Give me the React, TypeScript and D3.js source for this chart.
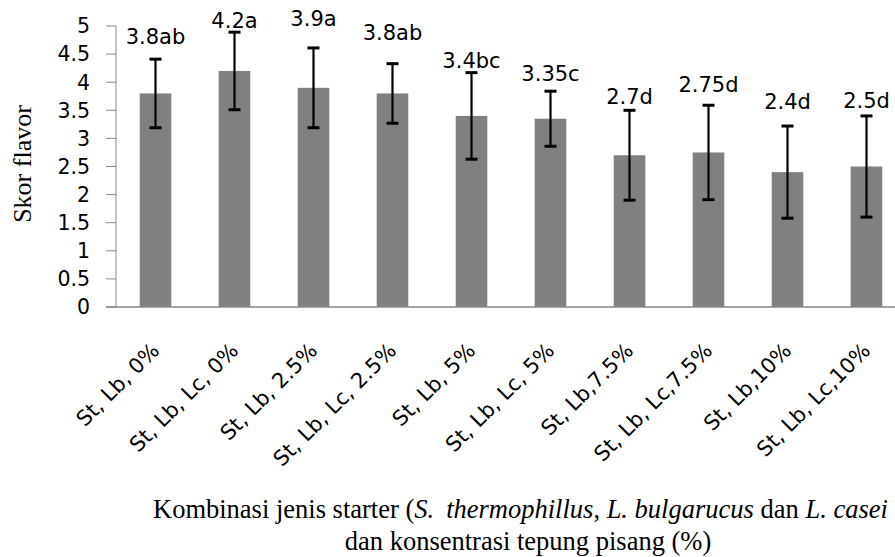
import React from "react";
import * as d3 from "d3";

const categories = [
  "St, Lb, 0%",
  "St, Lb, Lc, 0%",
  "St, Lb, 2.5%",
  "St, Lb, Lc, 2.5%",
  "St, Lb, 5%",
  "St, Lb, Lc, 5%",
  "St, Lb,7.5%",
  "St, Lb, Lc,7.5%",
  "St, Lb,10%",
  "St, Lb, Lc,10%",
];
const means = [3.8, 4.2, 3.9, 3.8, 3.4, 3.35, 2.7, 2.75, 2.4, 2.5];
const errors = [0.61, 0.69, 0.71, 0.53, 0.77, 0.49, 0.8, 0.84, 0.82, 0.9];
const barLabels = ["3.8ab", "4.2a", "3.9a", "3.8ab", "3.4bc", "3.35c", "2.7d", "2.75d", "2.4d", "2.5d"];
const labelLevels = [4.68, 4.96, 5.0, 4.75, 4.25, 4.02, 3.61, 3.83, 3.52, 3.54];
const yTicks = [0, 0.5, 1, 1.5, 2, 2.5, 3, 3.5, 4, 4.5, 5];

const W = 895;
const H = 557;
const left = 116;
const right = 906;
const top = 26;
const bottom = 307;

export default function App() {
  const x = d3
    .scaleBand<string>()
    .domain(categories)
    .range([left, right])
    .paddingInner(0.6)
    .paddingOuter(0.3);
  const y = d3.scaleLinear().domain([0, 5]).range([bottom, top]);
  const bw = x.bandwidth();
  const axisColor = "#878787";
  const sans = "DejaVu Sans, sans-serif";
  const serif = "Liberation Serif, Times New Roman, serif";

  return (
    <svg
      width={W}
      height={H}
      style={{ position: "absolute", left: 0, top: 0, background: "#fff" }}
    >
      <rect x={0} y={0} width={W} height={H} fill="#fff" />
      {categories.map((c, i) => (
        <rect
          key={c}
          x={x(c)!}
          y={y(means[i])}
          width={bw}
          height={y(0) - y(means[i])}
          fill="#808080"
        />
      ))}
      <line x1={left} x2={left} y1={y(5)} y2={y(0)} stroke={axisColor} strokeWidth={1} />
      <line x1={left - 10} x2={right} y1={y(0)} y2={y(0)} stroke={axisColor} strokeWidth={1.5} />
      {yTicks.map((t) => (
        <g key={t}>
          <line x1={left - 10} x2={left} y1={y(t)} y2={y(t)} stroke={axisColor} strokeWidth={1} />
          <text
            x={90}
            y={y(t)}
            dy="0.36em"
            textAnchor="end"
            fontFamily={sans}
            fontSize={20.5}
            fill="#000"
          >
            {String(t)}
          </text>
        </g>
      ))}
      {categories.map((c, i) => {
        const cx = x(c)! + bw / 2;
        const hi = y(means[i] + errors[i]);
        const lo = y(means[i] - errors[i]);
        return (
          <g key={c} stroke="#000" strokeWidth={2.2}>
            <line x1={cx} x2={cx} y1={hi} y2={lo} />
            <line x1={cx - 6} x2={cx + 6} y1={hi} y2={hi} strokeWidth={3} />
            <line x1={cx - 6} x2={cx + 6} y1={lo} y2={lo} strokeWidth={3} />
          </g>
        );
      })}
      {categories.map((c, i) => (
        <text
          key={c}
          x={x(c)! + bw / 2}
          y={y(labelLevels[i])}
          textAnchor="middle"
          fontFamily={sans}
          fontSize={21}
          fill="#000"
        >
          {barLabels[i]}
        </text>
      ))}
      {categories.map((c) => {
        const px = x(c)! + bw / 2 + 5;
        const py = 352;
        return (
          <text
            key={c}
            transform={`translate(${px},${py}) rotate(-45)`}
            textAnchor="end"
            fontFamily={sans}
            fontSize={21}
            fill="#000"
          >
            {c}
          </text>
        );
      })}
      <text
        transform={`translate(31,164) rotate(-90)`}
        textAnchor="middle"
        fontFamily={serif}
        fontSize={26}
        fill="#000"
      >
        Skor flavor
      </text>
      <text x={153} y={518} fontFamily={serif} fontSize={26.5} fill="#000">
        <tspan>Kombinasi jenis starter (</tspan>
        <tspan fontStyle="italic">S.</tspan>
        <tspan fontStyle="italic" dx={12}>thermophillus</tspan>
        <tspan>, </tspan>
        <tspan fontStyle="italic">L. bulgarucus</tspan>
        <tspan> dan </tspan>
        <tspan fontStyle="italic">L. casei</tspan>
      </text>
      <text x={528} y={550} textAnchor="middle" fontFamily={serif} fontSize={26.5} fill="#000">
        dan konsentrasi tepung pisang (%)
      </text>
    </svg>
  );
}
